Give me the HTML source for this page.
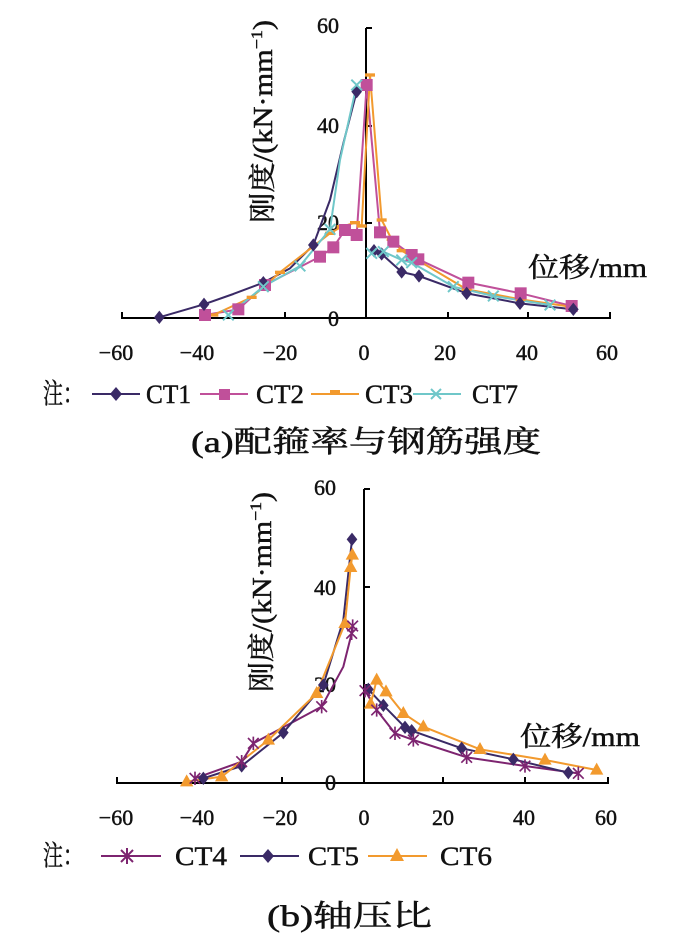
<!DOCTYPE html>
<html><head><meta charset="utf-8"><style>
html,body{margin:0;padding:0;background:#fff;}
svg{display:block;}
.t{font-family:"Liberation Serif","Noto Serif CJK SC",serif;fill:#111;stroke:#111;stroke-width:0.45;}
.c{font-family:"Liberation Serif","Noto Serif CJK SC","Noto Sans CJK SC",serif;fill:#111;stroke:#111;stroke-width:0.5;}
</style></head><body>
<svg width="700" height="946" viewBox="0 0 700 946" xmlns="http://www.w3.org/2000/svg">
<defs>
<g id="dia"><polygon points="0,-20 16,0 0,20 -16,0" fill="#3a2a66"/></g>
<g id="sq"><rect x="-18" y="-18" width="36" height="36" fill="#c0509a"/></g>
<g id="dash"><rect x="-15" y="-5" width="30" height="10" fill="#f29a2e"/></g>
<g id="xx"><path d="M-16,-16L16,16M-16,16L16,-16" stroke="#6fc7c9" stroke-width="6"/></g>
<g id="ast"><path d="M-16,-16L16,16M-16,16L16,-16M0,-20V20" stroke="#7d2470" stroke-width="5"/></g>
<g id="tri"><polygon points="0,-22 20,14 -20,14" fill="#f29a2e"/></g>
</defs>

<!-- ===== Chart (a) ===== -->
<g stroke="#000" stroke-width="2" fill="none">
<line x1="121" y1="318" x2="611" y2="318"/>
<line x1="366" y1="28" x2="366" y2="319"/>
<path d="M122,318v-6M203,318v-6M285,318v-6M448,318v-6M528,318v-6M610,318v-6"/>
<path d="M366,28h6M366,126h6M366,223h6"/>
</g>
<g class="t" font-size="22" text-anchor="middle">
<text x="116" y="360">−60</text><text x="197" y="360">−40</text><text x="280" y="360">−20</text>
<text x="364" y="360">0</text><text x="445" y="360">20</text><text x="527" y="360">40</text><text x="607" y="360">60</text>
</g>
<g class="t" font-size="22" text-anchor="end">
<text x="339" y="33">60</text><text x="339" y="133">40</text><text x="339" y="230">20</text><text x="339" y="326">0</text>
</g>
<text class="c" x="528" y="277" font-size="27" textLength="119" lengthAdjust="spacingAndGlyphs">位移/mm</text>
<text class="c" transform="translate(272,223) rotate(-90)" font-size="27" textLength="203" lengthAdjust="spacingAndGlyphs">刚度/(kN·mm<tspan font-size="16" dy="-10">−1</tspan><tspan dy="10">)</tspan></text>

<g transform="translate(100,60) scale(0.33333)" fill="none" stroke-width="6" stroke-linejoin="round">
<polyline stroke="#3a2a66" points="178,772 312,733 400,702 490,668 570,625 640,555 690,420 730,250 770,95"/>
<polyline stroke="#3a2a66" points="822,572 845,582 905,636 957,648 1100,700 1260,730 1420,748"/>
<polyline stroke="#c0509a" points="315,765 415,748 495,675 660,590 700,562 735,510 770,525 800,75 840,517 880,545 935,585 955,598 1105,668 1262,700 1415,738"/>
<polyline stroke="#f29a2e" points="340,765 455,712 540,637 690,520 725,500 765,488 785,498 810,45 845,480 875,538 905,572 1100,688 1262,718 1410,740"/>
<polyline stroke="#6fc7c9" points="385,765 490,680 600,618 690,508 720,300 770,75"/>
<polyline stroke="#6fc7c9" points="815,580 850,575 905,600 935,608 1060,680 1180,708 1350,735"/>
<g>
<use href="#dash" x="340" y="765"/><use href="#dash" x="455" y="712"/><use href="#dash" x="540" y="637"/><use href="#dash" x="690" y="520"/><use href="#dash" x="725" y="500"/><use href="#dash" x="765" y="488"/><use href="#dash" x="785" y="498"/><use href="#dash" x="810" y="45"/><use href="#dash" x="845" y="480"/><use href="#dash" x="875" y="538"/><use href="#dash" x="905" y="572"/><use href="#dash" x="1100" y="688"/><use href="#dash" x="1262" y="718"/><use href="#dash" x="1410" y="740"/>
<use href="#sq" x="315" y="765"/><use href="#sq" x="415" y="748"/><use href="#sq" x="495" y="675"/><use href="#sq" x="660" y="590"/><use href="#sq" x="700" y="562"/><use href="#sq" x="735" y="510"/><use href="#sq" x="770" y="525"/><use href="#sq" x="800" y="75"/><use href="#sq" x="840" y="517"/><use href="#sq" x="880" y="545"/><use href="#sq" x="935" y="585"/><use href="#sq" x="955" y="598"/><use href="#sq" x="1105" y="668"/><use href="#sq" x="1262" y="700"/><use href="#sq" x="1415" y="738"/>
<use href="#dia" x="178" y="772"/><use href="#dia" x="312" y="733"/><use href="#dia" x="490" y="668"/><use href="#dia" x="640" y="555"/><use href="#dia" x="770" y="95"/><use href="#dia" x="822" y="572"/><use href="#dia" x="845" y="582"/><use href="#dia" x="905" y="636"/><use href="#dia" x="957" y="648"/><use href="#dia" x="1100" y="700"/><use href="#dia" x="1260" y="730"/><use href="#dia" x="1420" y="748"/>
<use href="#xx" x="385" y="765"/><use href="#xx" x="490" y="680"/><use href="#xx" x="600" y="618"/><use href="#xx" x="690" y="508"/><use href="#xx" x="770" y="75"/><use href="#xx" x="815" y="580"/><use href="#xx" x="850" y="575"/><use href="#xx" x="905" y="600"/><use href="#xx" x="935" y="608"/><use href="#xx" x="1060" y="680"/><use href="#xx" x="1180" y="708"/><use href="#xx" x="1350" y="735"/>
</g>
</g>

<!-- legend a -->
<text class="c" x="43" y="403" font-size="28" textLength="40" lengthAdjust="spacingAndGlyphs">注：</text>
<g stroke-width="2">
<line x1="92" y1="394" x2="140" y2="394" stroke="#3a2a66"/>
<line x1="200" y1="394" x2="248" y2="394" stroke="#c0509a"/>
<line x1="311" y1="394" x2="359" y2="394" stroke="#f29a2e"/>
<line x1="413" y1="394" x2="461" y2="394" stroke="#6fc7c9"/>
</g>
<polygon points="116,387 122,394 116,401 110,394" fill="#3a2a66"/>
<rect x="219" y="389" width="11" height="11" fill="#c0509a"/>
<rect x="330" y="390" width="10" height="4" fill="#f29a2e"/>
<path d="M431,389L441,399M431,399L441,389" stroke="#6fc7c9" stroke-width="2"/>
<g class="t" font-size="26">
<text x="146" y="403" textLength="45" lengthAdjust="spacingAndGlyphs">CT1</text>
<text x="256" y="403" textLength="48" lengthAdjust="spacingAndGlyphs">CT2</text>
<text x="365" y="403" textLength="48" lengthAdjust="spacingAndGlyphs">CT3</text>
<text x="472" y="403" textLength="46" lengthAdjust="spacingAndGlyphs">CT7</text>
</g>
<text class="c" x="191" y="452" font-size="30" textLength="350" lengthAdjust="spacingAndGlyphs">(a)配箍率与钢筋强度</text>

<!-- ===== Chart (b) ===== -->
<g stroke="#000" stroke-width="2" fill="none">
<line x1="116" y1="783" x2="609" y2="783"/>
<line x1="364" y1="489" x2="364" y2="784"/>
<path d="M117,783v-6M282,783v-6M443,783v-6M525,783v-6M608,783v-6M200,783v-6"/>
<path d="M364,489h6M364,587h6M364,685h6"/>
</g>
<g class="t" font-size="22" text-anchor="middle">
<text x="116" y="825">−60</text><text x="197" y="825">−40</text><text x="280" y="825">−20</text>
<text x="364" y="825">0</text><text x="443" y="825">20</text><text x="524" y="825">40</text><text x="606" y="825">60</text>
</g>
<g class="t" font-size="22" text-anchor="end">
<text x="336" y="495">60</text><text x="336" y="595">40</text><text x="336" y="692">20</text><text x="336" y="790">0</text>
</g>
<text class="c" x="520" y="746" font-size="27" textLength="120" lengthAdjust="spacingAndGlyphs">位移/mm</text>
<text class="c" transform="translate(271,692) rotate(-90)" font-size="27" textLength="200" lengthAdjust="spacingAndGlyphs">刚度/(kN·mm<tspan font-size="16" dy="-10">−1</tspan><tspan dy="10">)</tspan></text>

<g transform="translate(110,480) scale(0.33333)" fill="none" stroke-width="6" stroke-linejoin="round">
<polyline stroke="#7d2470" points="255,895 395,845 430,790 635,680 700,560 725,460 728,438"/>
<polyline stroke="#7d2470" points="765,632 800,690 855,760 910,780 1070,832 1245,858 1405,880"/>
<polyline stroke="#3a2a66" points="280,895 395,858 520,758 640,615 700,420 726,178"/>
<polyline stroke="#3a2a66" points="775,628 820,676 885,742 905,752 1055,805 1210,838 1375,878"/>
<polyline stroke="#f29a2e" points="230,905 335,890 475,780 620,640 705,430 722,262 727,225"/>
<polyline stroke="#f29a2e" points="782,672 800,600 828,635 880,700 940,740 1110,808 1305,840 1460,870"/>
<g>
<use href="#dia" x="280" y="895"/><use href="#dia" x="395" y="858"/><use href="#dia" x="520" y="758"/><use href="#dia" x="640" y="615"/><use href="#dia" x="726" y="178"/><use href="#dia" x="775" y="628"/><use href="#dia" x="820" y="676"/><use href="#dia" x="885" y="742"/><use href="#dia" x="905" y="752"/><use href="#dia" x="1055" y="805"/><use href="#dia" x="1210" y="838"/><use href="#dia" x="1375" y="878"/>
<use href="#tri" x="230" y="905"/><use href="#tri" x="335" y="890"/><use href="#tri" x="475" y="780"/><use href="#tri" x="620" y="640"/><use href="#tri" x="705" y="430"/><use href="#tri" x="722" y="262"/><use href="#tri" x="727" y="225"/><use href="#tri" x="782" y="672"/><use href="#tri" x="800" y="600"/><use href="#tri" x="828" y="635"/><use href="#tri" x="880" y="700"/><use href="#tri" x="940" y="740"/><use href="#tri" x="1110" y="808"/><use href="#tri" x="1305" y="840"/><use href="#tri" x="1460" y="870"/>
<use href="#ast" x="255" y="895"/><use href="#ast" x="395" y="845"/><use href="#ast" x="430" y="790"/><use href="#ast" x="635" y="680"/><use href="#ast" x="725" y="460"/><use href="#ast" x="728" y="438"/><use href="#ast" x="765" y="632"/><use href="#ast" x="800" y="690"/><use href="#ast" x="855" y="760"/><use href="#ast" x="910" y="780"/><use href="#ast" x="1070" y="832"/><use href="#ast" x="1245" y="858"/><use href="#ast" x="1405" y="880"/>
</g>
</g>

<!-- legend b -->
<text class="c" x="43" y="865" font-size="28" textLength="40" lengthAdjust="spacingAndGlyphs">注：</text>
<g stroke-width="2">
<line x1="101" y1="856" x2="161" y2="856" stroke="#7d2470"/>
<line x1="240" y1="856" x2="299" y2="856" stroke="#3a2a66"/>
<line x1="368" y1="856" x2="427" y2="856" stroke="#f29a2e"/>
</g>
<path d="M121,850L133,862M121,862L133,850M127,848V864" stroke="#7d2470" stroke-width="2"/>
<polygon points="268,849 274,856 268,863 262,856" fill="#3a2a66"/>
<polygon points="397,848 404,861 390,861" fill="#f29a2e"/>
<g class="t" font-size="26">
<text x="175" y="865" textLength="52" lengthAdjust="spacingAndGlyphs">CT4</text>
<text x="308" y="865" textLength="51" lengthAdjust="spacingAndGlyphs">CT5</text>
<text x="440" y="865" textLength="52" lengthAdjust="spacingAndGlyphs">CT6</text>
</g>
<text class="c" x="267" y="926" font-size="30" textLength="165" lengthAdjust="spacingAndGlyphs">(b)轴压比</text>
</svg>
</body></html>
